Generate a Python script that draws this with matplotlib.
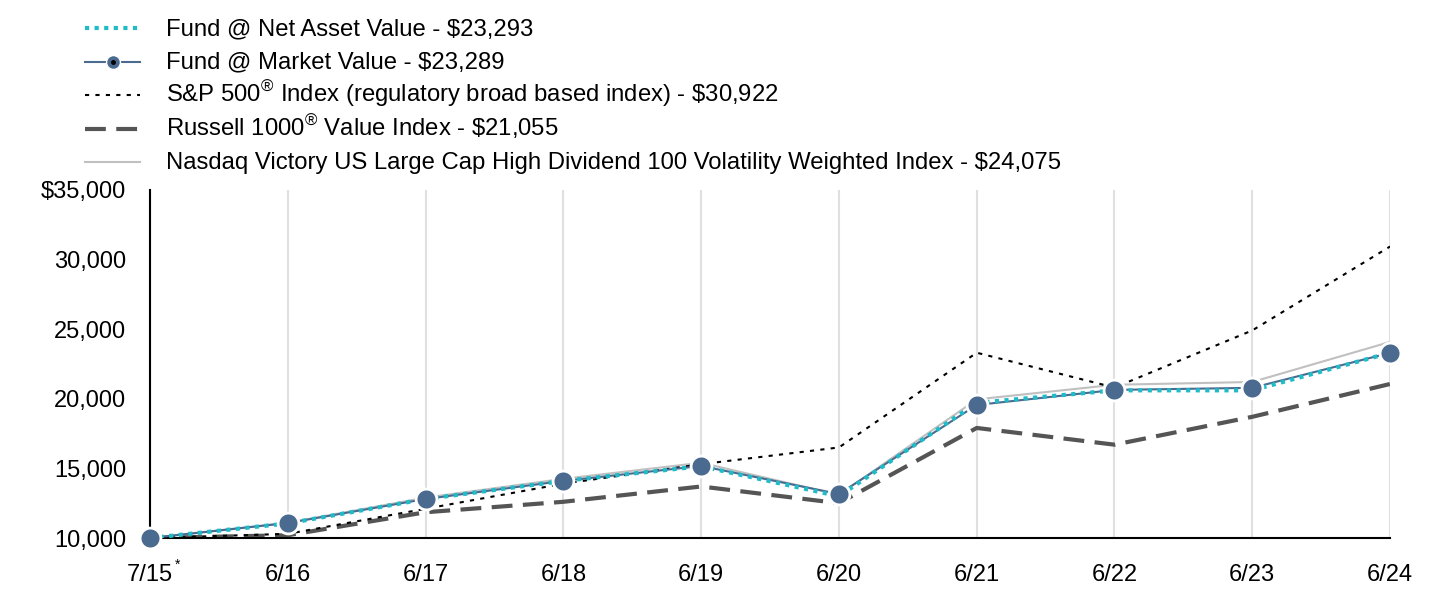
import matplotlib
matplotlib.use("Agg")
import matplotlib.pyplot as plt
from matplotlib.lines import Line2D

plt.rcParams["font.family"] = ["Liberation Sans", "DejaVu Sans"]
plt.rcParams["mathtext.fontset"] = "custom"
plt.rcParams["mathtext.rm"] = "Liberation Sans"
plt.rcParams["mathtext.it"] = "Liberation Sans"

# Data
periods = ["7/15", "6/16", "6/17", "6/18", "6/19", "6/20", "6/21", "6/22", "6/23", "6/24"]
fund_nav = [10000, 11050, 12800, 14100, 15150, 13000, 19700, 20600, 20600, 23293]
fund_market = [10000, 11078, 12800, 14100, 15170, 13160, 19550, 20630, 20780, 23289]
sp500 = [10000, 10300, 12100, 13900, 15300, 16500, 23300, 20800, 24900, 30922]
russell_value = [10000, 10200, 11850, 12600, 13700, 12500, 17900, 16700, 18700, 21055]
nasdaq_victory = [10000, 11100, 12900, 14250, 15400, 13100, 19950, 21000, 21200, 24075]

labels = [
    "Fund @ Net Asset Value - \\$23,293",
    "Fund @ Market Value - \\$23,289",
    "S&P 500$^{\u00ae}$ Index (regulatory broad based index) - \\$30,922",
    "Russell 1000$^{\u00ae}$ Value Index - \\$21,055",
    "Nasdaq Victory US Large Cap High Dividend 100 Volatility Weighted Index - \\$24,075",
]

teal = "#1fbcc8"
steel = "#4a6b8f"

W, H = 1436, 610
fig = plt.figure(figsize=(W / 100, H / 100), dpi=100)
ax = fig.add_axes([0.1045, 0.118, 0.8635, 0.571])

x = list(range(len(periods)))

ax.plot(x, nasdaq_victory, color="#c0c0c0", lw=1.5, zorder=2)
ax.plot(x, russell_value, color="#555555", lw=3, dashes=(5, 2.5), zorder=2)
ax.plot(x, sp500, color="black", lw=1.5, dashes=(2, 3), zorder=2)
ax.plot(x, fund_market, color=steel, lw=1.5, zorder=3)
ax.plot(x, fund_nav, color=teal, lw=3, dashes=(1, 1.3), zorder=4)
ax.plot(x, fund_market, ls="none", marker="o", markersize=15,
        markerfacecolor=steel, markeredgecolor="white", markeredgewidth=2,
        zorder=5, clip_on=False)

ax.set_xlim(0, 9)
ax.set_ylim(10000, 35000)
ax.set_xticks(x)
ax.set_xticklabels(periods)
ax.set_yticks([10000, 15000, 20000, 25000, 30000, 35000])
ax.set_yticklabels(["10,000", "15,000", "20,000", "25,000", "30,000", "$35,000"])
ax.tick_params(axis="both", length=0, labelsize=17)
ax.tick_params(axis="x", pad=19)
ax.tick_params(axis="y", pad=17)

# asterisk on the first period label
ax.annotate("*", xy=(0, 0), xycoords=("data", "axes fraction"),
            xytext=(17.5, -14.5), textcoords="offset points",
            fontsize=10, va="top", ha="left")

ax.grid(axis="x", color="#e0e0e0", lw=1.5)
ax.set_axisbelow(True)
for side in ["top", "right"]:
    ax.spines[side].set_visible(False)
ax.spines["left"].set_linewidth(1.5)
ax.spines["bottom"].set_linewidth(1.5)

# legend drawn by hand so rows stay evenly spaced
handle_styles = [
    dict(color=teal, lw=3, dashes=(1, 1.3)),
    dict(color=steel, lw=1.5),
    dict(color="black", lw=1.5, dashes=(2, 3)),
    dict(color="#555555", lw=3, dashes=(5, 2.5)),
    dict(color="#c0c0c0", lw=1.5),
]
x0, x1, xt = 85 / W, 140 / W, 166 / W
for i, (label, style) in enumerate(zip(labels, handle_styles)):
    yc = 1 - (28 + 33.5 * i) / H
    fig.add_artist(Line2D([x0, x1], [yc, yc], transform=fig.transFigure, **style))
    if i == 1:
        fig.add_artist(Line2D([(x0 + x1) / 2], [yc], transform=fig.transFigure,
                              ls="none", marker="o", markersize=10,
                              markerfacecolor=steel, markeredgecolor="white",
                              markeredgewidth=1))
        fig.add_artist(Line2D([(x0 + x1) / 2], [yc], transform=fig.transFigure,
                              ls="none", marker="o", markersize=2.5, color="black"))
    fig.text(xt, yc - 7 / H, label, fontsize=17.2, va="baseline", ha="left")

fig.savefig("out.png", dpi=100)
